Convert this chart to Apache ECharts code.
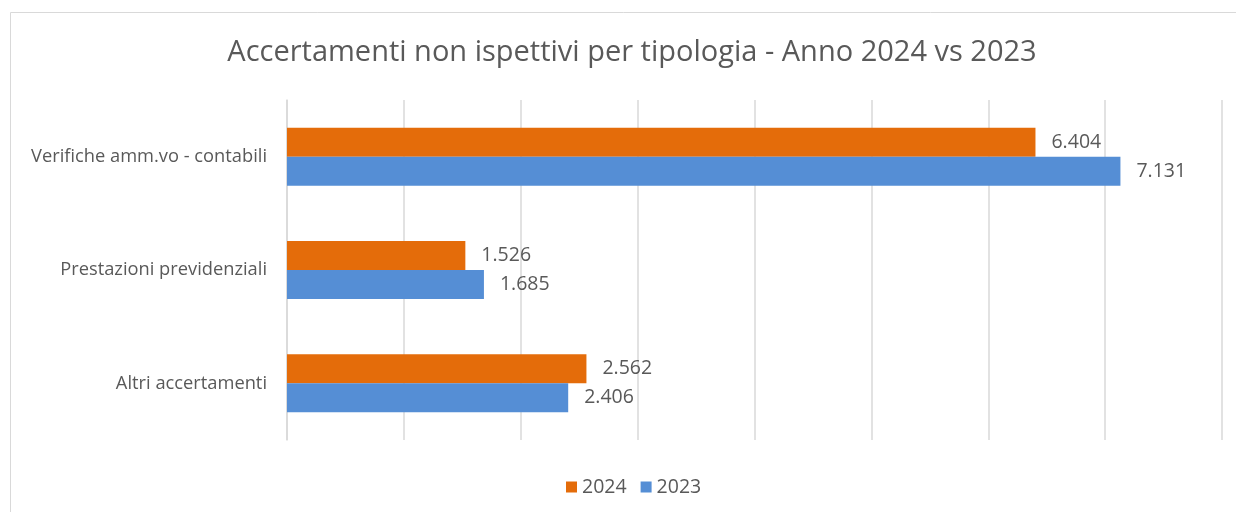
<!DOCTYPE html>
<html><head><meta charset="utf-8">
<script src="https://cdn.jsdelivr.net/npm/echarts@6/dist/echarts.min.js"></script>
<style>html,body{margin:0;padding:0;background:#fff}#c{width:1236px;height:512px}</style>
</head><body><div id="c"></div>
<script>
const categories = ['Verifiche amm.vo - contabili', 'Prestazioni previdenziali', 'Altri accertamenti'];
const values2024 = [6404, 1526, 2562];
const values2023 = [7131, 1685, 2406];
const seriesNames = ['2024', '2023'];

const fmt = v => String(v).replace(/\B(?=(\d{3})+(?!\d))/g, '.');
const font = '"Open Sans", "Noto Sans", sans-serif';
const chart = echarts.init(document.getElementById('c'));
const lbl = {show: true, position: 'right', distance: 16, color: '#595959', fontSize: 19.5, fontFamily: font, formatter: p => fmt(p.value)};
chart.setOption({
  animation: false,
  graphic: [{type: 'rect', shape: {x: 10.5, y: 12.5, width: 1240, height: 520}, style: {fill: 'none', stroke: '#d9d9d9', lineWidth: 1}, z: -1}],
  title: {text: 'Accertamenti non ispettivi per tipologia - Anno 2024 vs 2023', left: 627, top: 33, textAlign: 'center',
    textStyle: {fontFamily: font, fontSize: 29, fontWeight: 'normal', color: '#595959'}},
  legend: {data: seriesNames, left: 561, bottom: 10, itemWidth: 11, itemHeight: 11, itemGap: 14, icon: 'rect',
    textStyle: {fontFamily: font, fontSize: 19.5, color: '#595959'}},
  grid: {left: 287, right: 14, top: 100, bottom: 72, containLabel: false},
  xAxis: {type: 'value', min: 0, max: 8000, interval: 1000, axisLabel: {show: false},
    splitLine: {lineStyle: {color: '#d9d9d9', width: 1.5}}, axisLine: {show: false}, axisTick: {show: false}},
  yAxis: {type: 'category', data: categories, inverse: true,
    axisLine: {show: true, lineStyle: {color: '#d9d9d9', width: 1.5}}, axisTick: {show: false},
    axisLabel: {margin: 20, color: '#595959', fontSize: 18.3, fontFamily: font}},
  series: [
    {name: seriesNames[0], type: 'bar', data: values2024, barWidth: 29, barGap: '0%', itemStyle: {color: '#E46C0A'}, label: lbl},
    {name: seriesNames[1], type: 'bar', data: values2023, barWidth: 29, barGap: '0%', itemStyle: {color: '#558ED5'}, label: lbl}
  ]
});
</script></body></html>
